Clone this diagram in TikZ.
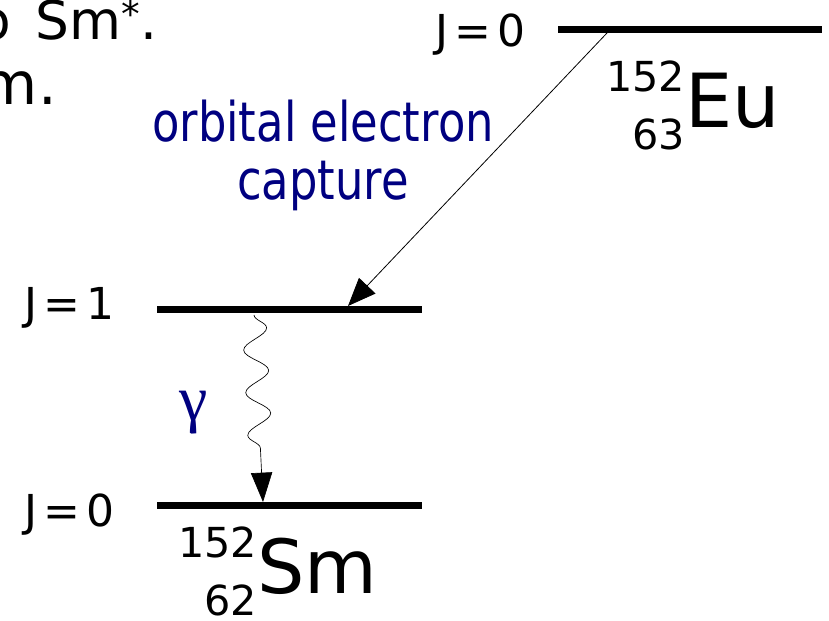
\documentclass[tikz,border=0pt]{standalone}
\usepackage{fontspec}
\setmainfont{DejaVu Sans}
\newfontfamily\capfont[FakeStretch=0.82]{DejaVu Sans}
\newfontfamily\greekfont{Liberation Serif}
\usetikzlibrary{arrows.meta,decorations.pathmorphing}
\definecolor{capblue}{RGB}{0,0,128}
\newcommand{\nuc}[3]{%
  \llap{\fontsize{31}{31}\selectfont\raisebox{27pt}{#1}}%
  \llap{\fontsize{31}{31}\selectfont\raisebox{-16.5pt}{#2}}%
  {\fontsize{56}{56}\selectfont #3}}
\newcommand{\jval}[1]{J\hspace{4.5pt}=\hspace{4.5pt}#1}

\begin{document}
\begin{tikzpicture}[x=0.75pt, y=0.75pt,
    level/.style={line width=5.25pt},
    jlab/.style={anchor=base west, inner sep=0pt, font=\fontsize{33}{33}\selectfont}]
  \useasboundingbox (0,0) rectangle (829,621);
  \clip (0,0) rectangle (829,621);
  \coordinate (euL) at (558,591);
  \coordinate (euR) at (822,591);
  \coordinate (smxL) at (157,311);
  \coordinate (smxR) at (422,311);
  \coordinate (smL) at (157,115);
  \coordinate (smR) at (422,115);
  \draw[level] (euL) -- (euR);
  \draw[level] (smxL) -- (smxR);
  \draw[level] (smL) -- (smR);
  \node[jlab] (jeu) at (435,574) {\jval{0}};
  \node[jlab] (jsmx) at (24,301) {\jval{1}};
  \node[jlab] (jsm) at (24,94) {\jval{0}};
  \node[anchor=base west, inner sep=0pt] (eu) at (685,493) {\nuc{152}{63}{Eu}};
  \node[anchor=base west, inner sep=0pt] (sm) at (257,27) {\nuc{152}{62}{Sm}};
  \node[anchor=base east, inner sep=0pt, font=\fontsize{40}{40}\selectfont] (frag1) at (158,581) {o\hspace{6pt} Sm\textsuperscript{*}.};
  \node[anchor=base east, inner sep=0pt, font=\fontsize{44}{44}\selectfont] (frag2) at (57,516) {m.};
  \node[anchor=base, inner sep=0pt, align=center, text=capblue, font=\capfont\fontsize{41}{43.5}\selectfont] (ec) at (323,421) {orbital electron\\capture};
  \node[text=capblue, inner sep=0pt, font=\greekfont\fontsize{48}{48}\selectfont] (gam) at (194,208) {γ};
  \coordinate (capfrom) at (607,588);
  \coordinate (capto) at (348,315);
  \draw[line width=0.6pt, -{Triangle[length=21pt,width=17pt]}] (capfrom) -- (capto);
  \coordinate (gfrom) at (254,306);
  \coordinate (gto) at (263,119);
  \draw[line width=0.5pt, decorate, decoration={snake, segment length=32pt, amplitude=9pt, post length=25pt},
    -{Triangle[length=22pt,width=16pt]}] (gfrom) -- (gto);
\end{tikzpicture}
\end{document}
